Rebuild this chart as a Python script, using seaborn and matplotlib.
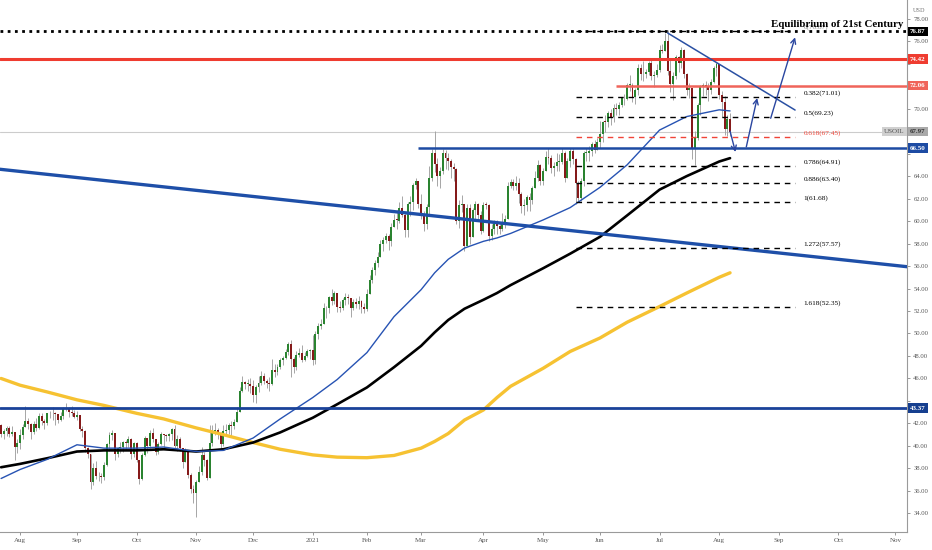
import numpy as np
import pandas as pd
import matplotlib
matplotlib.use("Agg")
import matplotlib.pyplot as plt
import seaborn as sns

# ---- USOIL daily candles (close / high / low), open = previous close ----
first_open = 41.90

close_2020_07 = [41.07, 41.29, 41.60, 41.04, 41.27, 39.92, 40.27]
high_2020_07 = [41.96, 41.53, 41.78, 41.76, 41.73, 41.25, 40.65]
low_2020_07 = [40.75, 40.59, 40.86, 40.79, 40.90, 38.72, 39.40]

close_2020_08 = [41.01, 41.70, 42.19, 41.95, 41.22, 41.94, 41.61, 42.67, 42.24, 42.01, 42.89,
                 42.89, 42.93, 42.82, 42.34, 42.62, 43.35, 43.39, 43.04, 42.97, 42.61]
high_2020_08 = [41.52, 41.92, 43.52, 42.46, 42.00, 42.21, 42.51, 42.94, 42.90, 42.38, 42.95,
                43.13, 43.42, 43.01, 42.88, 43.04, 43.47, 43.78, 43.50, 43.54, 43.22]
low_2020_08 = [39.74, 40.58, 41.69, 41.52, 40.61, 41.08, 41.33, 41.46, 41.86, 41.50, 41.85,
               42.44, 42.28, 41.89, 42.02, 42.22, 42.35, 43.12, 42.54, 42.68, 42.44]

close_2020_09 = [42.76, 41.51, 41.37, 39.77, 39.30, 36.76, 38.05, 37.30, 37.33, 37.26, 38.28,
                 40.16, 40.97, 41.11, 39.31, 39.80, 39.93, 40.31, 40.25, 40.60, 39.29, 40.22]
high_2020_09 = [43.12, 42.74, 41.73, 41.44, 39.90, 39.25, 38.50, 38.64, 37.70, 37.60, 38.55,
                40.28, 41.20, 41.38, 41.07, 39.93, 40.31, 40.47, 40.50, 40.84, 40.71, 40.38]
low_2020_09 = [42.28, 41.30, 40.79, 39.44, 38.90, 36.13, 36.50, 37.04, 36.88, 36.73, 36.97,
               38.25, 39.56, 40.50, 38.77, 39.02, 39.33, 39.48, 39.76, 39.86, 38.80, 38.97]

close_2020_10 = [38.72, 37.05, 39.22, 40.67, 39.95, 41.19, 40.60, 39.43, 40.20, 41.04, 40.96,
                 40.88, 41.06, 41.46, 40.03, 40.64, 39.85, 38.56, 39.57, 37.39, 36.17, 35.79]
high_2020_10 = [40.33, 38.71, 39.40, 40.91, 40.59, 41.44, 41.57, 40.50, 40.34, 41.25, 41.09,
                41.08, 41.15, 41.62, 41.83, 40.94, 40.75, 39.63, 39.77, 39.45, 37.59, 36.50]
low_2020_10 = [38.53, 36.63, 36.97, 39.13, 39.33, 39.82, 40.38, 39.20, 39.31, 40.08, 39.80,
               40.43, 40.46, 40.53, 39.84, 39.58, 39.53, 38.03, 38.55, 37.15, 35.79, 34.92]

close_2020_11 = [36.81, 37.66, 39.15, 38.79, 37.14, 40.29, 41.36, 41.45, 41.12, 40.13, 41.34,
                 41.43, 41.82, 41.74, 42.15, 43.06, 44.91, 45.71, 45.50, 45.53, 45.34]
high_2020_11 = [36.99, 38.24, 39.88, 39.46, 38.81, 41.90, 41.86, 42.05, 41.61, 41.22, 41.90,
                41.92, 42.08, 42.20, 42.42, 43.46, 45.20, 46.26, 45.80, 45.92, 46.00]
low_2020_11 = [33.64, 36.81, 37.41, 38.20, 36.97, 37.34, 40.01, 41.00, 40.58, 39.62, 39.95,
               40.94, 41.07, 40.81, 41.54, 42.15, 42.99, 44.79, 45.10, 44.89, 44.68]

close_2020_12 = [44.55, 45.28, 45.64, 46.26, 45.76, 45.60, 45.52, 46.78, 46.57, 46.99, 47.62,
                 47.82, 48.36, 49.10, 47.74, 47.02, 48.12, 48.23, 47.62, 48.00, 48.40, 48.52]
high_2020_12 = [45.86, 45.40, 46.24, 46.68, 46.52, 45.94, 46.16, 47.74, 47.32, 47.32, 47.81,
                47.96, 48.59, 49.28, 49.38, 47.91, 48.45, 48.72, 48.96, 48.34, 48.59, 48.58]
low_2020_12 = [43.92, 43.84, 44.81, 45.38, 45.48, 45.17, 44.90, 45.41, 46.09, 46.31, 46.86,
               47.20, 47.73, 48.10, 46.16, 46.46, 46.71, 47.89, 47.50, 47.53, 47.95, 47.76]

close_2021_01 = [47.62, 49.93, 50.63, 50.83, 52.24, 52.25, 53.21, 52.91, 53.57, 52.36,
                 52.30, 52.98, 53.24, 53.13, 52.27, 52.77, 52.61, 52.85, 52.34, 52.20]
high_2021_01 = [49.83, 50.20, 50.94, 51.28, 52.75, 52.49, 53.37, 53.93, 53.80, 53.61,
                52.90, 53.12, 53.57, 53.54, 53.11, 53.05, 53.12, 53.32, 53.00, 52.75]
low_2021_01 = [47.18, 47.26, 49.52, 50.41, 50.81, 51.39, 51.79, 52.53, 52.64, 51.92,
               51.90, 52.06, 52.56, 52.65, 51.43, 52.10, 52.23, 52.18, 51.83, 51.85]

close_2021_02 = [53.55, 54.76, 55.69, 56.23, 56.85, 57.97, 58.36, 58.68, 58.24, 59.47,
                 60.10, 60.05, 61.14, 60.52, 59.24, 61.49, 61.67, 63.22, 63.53, 61.50]
high_2021_02 = [53.99, 55.21, 55.95, 56.56, 57.29, 58.31, 58.62, 58.91, 58.81, 59.83,
                60.60, 60.95, 61.73, 62.26, 60.85, 61.67, 62.20, 63.40, 63.81, 63.60]
low_2021_02 = [52.04, 53.48, 54.47, 55.24, 55.96, 56.96, 57.32, 58.01, 57.40, 57.76,
               59.50, 59.30, 59.82, 60.40, 58.60, 58.61, 60.48, 60.95, 62.89, 61.14]

close_2021_03 = [60.64, 59.75, 61.28, 63.83, 66.09, 65.05, 64.01, 64.44, 66.02, 65.61, 65.39, 64.80,
                 64.60, 60.00, 61.42, 61.55, 57.76, 61.18, 58.56, 60.97, 61.56, 60.55, 59.16]
high_2021_03 = [62.41, 60.94, 61.55, 64.86, 66.40, 67.98, 65.60, 64.80, 66.40, 66.32, 66.05, 65.48,
                65.21, 64.73, 61.90, 62.30, 61.53, 61.49, 61.50, 61.14, 61.79, 61.61, 60.86]
low_2021_03 = [60.22, 59.10, 59.28, 60.61, 63.53, 64.35, 63.08, 62.91, 64.21, 64.66, 64.57, 63.87,
               63.61, 59.75, 59.38, 60.81, 57.32, 58.13, 58.00, 58.56, 60.17, 59.99, 58.85]

close_2021_04 = [61.45, 61.40, 58.65, 59.33, 59.77, 59.60, 59.32, 59.70, 60.18, 63.15, 63.46,
                 63.13, 63.38, 62.44, 61.35, 61.43, 62.14, 61.91, 62.94, 63.86, 65.01, 63.58]
high_2021_04 = [61.74, 61.70, 61.50, 59.76, 60.12, 60.13, 59.93, 60.68, 60.56, 63.45, 63.75,
                63.78, 64.05, 63.80, 62.58, 61.97, 62.33, 62.46, 63.10, 64.42, 65.47, 65.08]
low_2021_04 = [59.04, 61.10, 58.22, 58.28, 58.87, 58.85, 58.87, 59.10, 59.37, 60.38, 62.92,
               62.78, 62.79, 61.59, 60.72, 60.52, 60.91, 60.88, 61.56, 62.98, 63.57, 63.18]

close_2021_05 = [64.49, 65.69, 65.63, 64.71, 64.90, 65.28, 65.28, 66.08, 63.82, 65.37, 66.27,
                 65.49, 63.36, 62.05, 63.58, 66.05, 66.07, 66.21, 66.85, 66.32, 67.00]
high_2021_05 = [64.69, 66.24, 66.52, 65.91, 65.25, 66.08, 65.96, 66.50, 66.28, 65.61, 66.48,
                66.53, 65.62, 63.60, 63.83, 66.23, 66.52, 66.64, 67.06, 67.18, 67.40]
low_2021_05 = [63.20, 64.42, 65.05, 64.28, 64.05, 64.50, 64.49, 65.10, 63.52, 63.84, 64.82,
               65.07, 61.56, 61.68, 61.78, 63.09, 65.31, 65.34, 65.77, 66.05, 66.30]

close_2021_06 = [67.72, 68.83, 68.81, 69.62, 69.23, 70.05, 69.96, 70.29, 70.91, 70.88, 72.12,
                 72.15, 71.04, 71.64, 73.66, 73.06, 73.08, 73.30, 74.05, 72.91, 72.98, 73.47]
high_2021_06 = [68.87, 68.87, 69.40, 69.76, 69.98, 70.43, 70.50, 70.62, 71.00, 71.32, 72.33,
                72.99, 72.28, 71.83, 73.97, 73.94, 74.25, 73.57, 74.22, 74.45, 73.31, 73.97]
low_2021_06 = [66.49, 67.08, 67.93, 68.36, 68.56, 68.79, 69.47, 69.42, 70.11, 70.36, 70.75,
               71.54, 70.56, 70.38, 71.19, 72.59, 72.45, 72.69, 73.04, 72.57, 71.90, 72.81]

close_2021_07 = [75.23, 75.16, 76.00, 73.37, 72.20, 72.94, 74.56, 74.10, 75.25, 73.13, 71.65,
                 71.81, 66.42, 67.42, 70.30, 71.91, 72.07, 71.91, 71.65, 72.39, 73.62, 73.95]
high_2021_07 = [75.70, 75.76, 76.70, 76.98, 74.50, 73.26, 74.76, 74.70, 75.52, 75.30, 73.20,
                72.30, 71.57, 67.98, 70.53, 72.14, 72.33, 72.42, 72.27, 72.60, 73.76, 74.13]
low_2021_07 = [73.28, 74.92, 75.10, 73.00, 71.48, 70.76, 72.68, 73.25, 73.66, 72.74, 71.25,
               70.95, 65.50, 65.01, 67.25, 69.44, 71.10, 71.19, 70.72, 71.29, 72.30, 72.88]

close_2021_08 = [71.26, 70.56, 68.15, 69.09, 67.97]
high_2021_08 = [73.79, 71.56, 71.14, 69.40, 69.60]
low_2021_08 = [70.90, 69.23, 67.66, 67.60, 67.60]

months = [
    ("2020-07-23", "2020-07-31", close_2020_07, high_2020_07, low_2020_07),
    ("2020-08-01", "2020-08-31", close_2020_08, high_2020_08, low_2020_08),
    ("2020-09-01", "2020-09-30", close_2020_09, high_2020_09, low_2020_09),
    ("2020-10-01", "2020-10-31", close_2020_10, high_2020_10, low_2020_10),
    ("2020-11-01", "2020-11-30", close_2020_11, high_2020_11, low_2020_11),
    ("2020-12-01", "2020-12-31", close_2020_12, high_2020_12, low_2020_12),
    ("2021-01-01", "2021-01-31", close_2021_01, high_2021_01, low_2021_01),
    ("2021-02-01", "2021-02-28", close_2021_02, high_2021_02, low_2021_02),
    ("2021-03-01", "2021-03-31", close_2021_03, high_2021_03, low_2021_03),
    ("2021-04-01", "2021-04-30", close_2021_04, high_2021_04, low_2021_04),
    ("2021-05-01", "2021-05-31", close_2021_05, high_2021_05, low_2021_05),
    ("2021-06-01", "2021-06-30", close_2021_06, high_2021_06, low_2021_06),
    ("2021-07-01", "2021-07-31", close_2021_07, high_2021_07, low_2021_07),
    ("2021-08-01", "2021-08-06", close_2021_08, high_2021_08, low_2021_08),
]

# ---- moving averages (50 / 100 / 200) ----
ma_dates = ["2020-07-23", "2020-08-03", "2020-08-17", "2020-09-01", "2020-09-15", "2020-10-01",
            "2020-10-15", "2020-11-02", "2020-11-16", "2020-12-01", "2020-12-15", "2021-01-04",
            "2021-01-15", "2021-02-01", "2021-02-15", "2021-03-01", "2021-03-08", "2021-03-15",
            "2021-03-23", "2021-04-01", "2021-04-08", "2021-04-15", "2021-05-03", "2021-05-17",
            "2021-06-01", "2021-06-15", "2021-07-01", "2021-07-15", "2021-08-02", "2021-08-06"]
ma50 = [37.1, 37.9, 38.8, 40.1, 39.8, 39.8, 39.9, 39.5, 39.6, 40.7, 42.4, 44.3, 45.9, 48.3,
        51.5, 53.9, 55.4, 56.6, 57.6, 58.2, 58.5, 58.9, 60.1, 61.2, 63.0, 65.0, 68.1, 69.3,
        69.9, 69.8]
ma100 = [38.1, 38.4, 38.9, 39.5, 39.6, 39.6, 39.7, 39.5, 39.7, 40.3, 41.2, 42.5, 43.7, 45.2,
         47.0, 48.9, 50.1, 51.2, 52.2, 53.0, 53.6, 54.3, 55.8, 57.1, 58.6, 60.5, 62.8, 64.0,
         65.3, 65.6]
ma200 = [46.0, 45.4, 44.8, 44.1, 43.6, 42.9, 42.4, 41.6, 41.0, 40.3, 39.7, 39.2, 39.0, 38.95,
         39.15, 39.8, 40.4, 41.1, 42.3, 43.2, 44.3, 45.3, 46.9, 48.4, 49.6, 51.0, 52.4, 53.6,
         55.0, 55.4]

# ---- drawn levels ----
fib_ratios = ["0", "0.382", "0.5", "0.618", "0.786", "0.886", "1", "1.272", "1.618"]
fib_values = [76.87, 71.01, 69.23, 67.45, 64.91, 63.40, 61.68, 57.57, 52.35]
fib_span = ("2021-05-19", "2021-09-09")
trend_long = [("2020-07-23", 64.60), ("2021-11-05", 55.95)]
trend_triangle = [("2021-07-06", 76.73), ("2021-09-09", 69.88)]
arrows = [[("2021-08-06", 68.00), ("2021-08-10", 66.15)],
          [("2021-08-16", 66.60), ("2021-08-20", 70.95)],
          [("2021-08-27", 69.15), ("2021-09-09", 76.35)]]
current_price = 67.97
tag_prices = [76.87, 74.42, 72.06, current_price, 66.50, 43.37]

# ---- trading-day calendar (bar index axis like TradingView) ----
holidays = pd.to_datetime(["2020-12-25", "2021-01-01"])
cal = pd.bdate_range("2020-07-23", "2021-11-05")
cal = cal[~cal.isin(holidays)]


def xi(d):
    return int(cal.searchsorted(pd.Timestamp(d)))


idx, c, h, l = [], [], [], []
for start, end, cc, hh, ll in months:
    days = cal[(cal >= start) & (cal <= end)]
    assert len(days) == len(cc) == len(hh) == len(ll), (start, len(days), len(cc))
    idx += [xi(d) for d in days]
    c += cc
    h += hh
    l += ll
idx = np.array(idx)
c = np.array(c)
o = np.concatenate([[first_open], c[:-1]])
h = np.maximum.reduce([np.array(h), o, c])
l = np.minimum.reduce([np.array(l), o, c])
up = c >= o

sns.set_theme(style="white")
plt.rcParams["font.family"] = ["Liberation Serif", "DejaVu Serif"]

fig = plt.figure(figsize=(9.32, 5.5), dpi=100)
ax = fig.add_axes([0, 18 / 550, 907 / 932, 532 / 550])
ax.set_xlim(-0.4, 334.3)
ax.set_ylim(32.34, 79.67)

# candles
ax.vlines(idx, l, h, color="#a0a0a0", lw=0.65, zorder=3)
body = np.where(np.abs(c - o) < 0.06, 0.06, c - o)
ax.bar(idx, body, bottom=o, width=0.72, color=np.where(up, "#2a8330", "#851a1a"),
       linewidth=0, zorder=4)

# moving averages
ma_x = [xi(d) for d in ma_dates]
sns.lineplot(x=ma_x, y=ma200, color="#f6c232", lw=2.4, ax=ax, zorder=5)
sns.lineplot(x=ma_x, y=ma100, color="black", lw=1.9, ax=ax, zorder=5)
sns.lineplot(x=ma_x, y=ma50, color="#2753b3", lw=1.0, ax=ax, zorder=5)

# horizontal levels
ax.axhline(current_price, color="#cccccc", lw=0.8, zorder=1)
ax.axhline(76.87, color="black", lw=2.0, ls=(0, (1, 1.6)), zorder=6)
ax.axhline(74.42, color="#ef3c30", lw=2.2, zorder=6)
ax.hlines(72.06, xi("2021-06-09"), 340, color="#f0645a", lw=1.8, zorder=6)
ax.hlines(66.50, xi("2021-02-26"), 340, color="#1d4ba3", lw=1.8, zorder=6)
ax.axhline(43.37, color="#1a4299", lw=2.0, zorder=6)

# trend lines
(d0, p0), (d1, p1) = trend_long
ax.axline((xi(d0), p0), (xi(d1), p1), color="#1e4fa8", lw=2.4, zorder=6)
(d0, p0), (d1, p1) = trend_triangle
ax.plot([xi(d0), xi(d1)], [p0, p1], color="#2a50a3", lw=1.1, zorder=6)

# fibonacci levels
fx0, fx1 = xi(fib_span[0]), xi(fib_span[1])
for r, v in zip(fib_ratios, fib_values):
    col = "#f04438" if r == "0.618" else "black"
    ax.hlines(v, fx0, fx1, color=col, lw=1.0, ls=(0, (4, 3.5)), zorder=6)
    ax.annotate(f"{r}({v:.2f})", xy=(fx1, v), xytext=(6, 3), textcoords="offset points",
                ha="left", va="center", fontsize=5.2, color=col, zorder=6)

# arrows
for (sd, sp), (ed, ep) in arrows:
    ax.annotate("", xy=(xi(ed), ep), xytext=(xi(sd), sp),
                arrowprops=dict(arrowstyle="->", color="#2a46a0", lw=1.0,
                                mutation_scale=9, shrinkA=0, shrinkB=0), zorder=7)

ax.text(0.9956, 77.25, "Equilibrium of 21st Century", transform=ax.get_yaxis_transform(),
        ha="right", va="baseline", fontsize=7.8, fontweight="bold", color="black", zorder=8,
        bbox=dict(boxstyle="square,pad=0.1", fc="white", ec="none", alpha=0.55))

# axes styling
month_starts = pd.date_range("2020-08-01", "2021-11-01", freq="MS")
ax.set_xticks([xi(m) for m in month_starts])
ax.set_xticklabels(["2021" if m.month == 1 else m.strftime("%b") for m in month_starts])
ax.yaxis.tick_right()
yt = np.arange(34, 79, 2)
ax.set_yticks(yt)
ax.set_yticklabels(["" if min(abs(v - p) for p in tag_prices) < 0.7 else f"{v:.2f}" for v in yt])
ax.tick_params(axis="y", length=2.5, width=0.6, color="#888888", labelsize=4.8,
               labelcolor="#555555", pad=2, right=True, left=False)
ax.tick_params(axis="x", length=2.5, width=0.6, color="#888888", labelsize=5,
               labelcolor="#555555", pad=2, bottom=True)
for s in ["top", "left"]:
    ax.spines[s].set_visible(False)
for s in ["right", "bottom"]:
    ax.spines[s].set_color("#9a9a9a")
    ax.spines[s].set_linewidth(0.8)
ax.grid(False)


def price_tag(price, fc, tc="white"):
    ax.annotate(f"{price:.2f}", xy=(1, price), xycoords=ax.get_yaxis_transform(),
                xytext=(2.2, 0), textcoords="offset points", ha="left", va="center",
                fontsize=5, fontweight="bold", color=tc, annotation_clip=False, zorder=10,
                bbox=dict(boxstyle="square,pad=0.3", fc=fc, ec="none"))


for p, fc, tc in zip(tag_prices,
                     ["black", "#ef3c30", "#f0645a", "#a9a9a9", "#1d4ba3", "#163f8f"],
                     ["white", "white", "white", "#333333", "white", "white"]):
    price_tag(p, fc, tc)
ax.annotate("USOIL", xy=(1, current_price), xycoords=ax.get_yaxis_transform(),
            xytext=(-1.5, 0), textcoords="offset points", ha="right", va="center",
            fontsize=5, color="#555555", annotation_clip=False, zorder=10,
            bbox=dict(boxstyle="square,pad=0.3", fc="#d0d0d0", ec="none"))
fig.text(919 / 932, 1 - 10 / 550, "USD", ha="center", va="center", fontsize=4.5, color="#777777")

fig.savefig("out.png", dpi=100)
